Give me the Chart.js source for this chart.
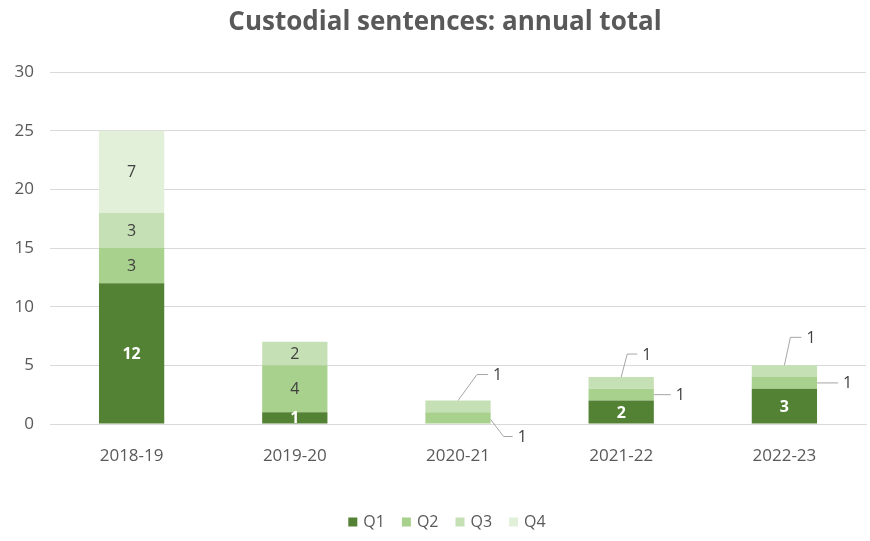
<!DOCTYPE html>
<html>
<head>
<meta charset="utf-8">
<script src="https://cdn.jsdelivr.net/npm/chart.js@4.4.1/dist/chart.umd.min.js"></script>
<style>
  html, body { margin: 0; padding: 0; background: #ffffff; }
  #wrap { width: 870px; height: 541px; }
</style>
</head>
<body>
<div id="wrap"><canvas id="chart" width="870" height="541"></canvas></div>
<script>
const years = ["2018-19", "2019-20", "2020-21", "2021-22", "2022-23"];
const quarterNames = ["Q1", "Q2", "Q3", "Q4"];
const q1Values = [12, 1, 0, 2, 3];
const q2Values = [3, 4, 1, 1, 1];
const q3Values = [3, 2, 1, 1, 1];
const q4Values = [7, 0, 0, 0, 0];
const yMax = 30;
const yStep = 5;
const chartTitle = "Custodial sentences: annual total";

const quarterColors = ["#548235", "#a9d18e", "#c5e0b4", "#e2f0d9"];
const textGrey = "#595959";
const labelGrey = "#404040";
const fontFamily = "'Open Sans', sans-serif";

// small segments get their label pulled out on a leader line
// key = datasetIndex:barIndex, from = anchor on the segment, dx/dy = elbow offset, len = flat run
const callouts = {
  "1:2": { from: "rightBottom", dx: 13, dy: 17, len: 9 },
  "2:2": { from: "top", dx: 19, dy: -26, len: 11 },
  "1:3": { from: "right", dx: 0, dy: 0, len: 17 },
  "2:3": { from: "top", dx: 6, dy: -23, len: 10 },
  "1:4": { from: "right", dx: 0, dy: 0, len: 21 },
  "2:4": { from: "top", dx: 6, dy: -28, len: 11 },
};

const segmentLabels = {
  id: "segmentLabels",
  afterDatasetsDraw(chart) {
    const ctx = chart.ctx;
    ctx.save();
    ctx.textBaseline = "middle";
    chart.data.datasets.forEach((ds, di) => {
      const meta = chart.getDatasetMeta(di);
      meta.data.forEach((bar, i) => {
        const value = ds.data[i];
        if (!value) return;
        const top = Math.min(bar.y, bar.base);
        const bottom = Math.max(bar.y, bar.base);
        const callout = callouts[`${di}:${i}`];
        if (!callout) {
          ctx.font = di === 0 ? `bold 16px ${fontFamily}` : `16px ${fontFamily}`;
          ctx.fillStyle = di === 0 ? "#ffffff" : labelGrey;
          ctx.textAlign = "center";
          ctx.fillText(String(value), bar.x, (top + bottom) / 2 + 1);
          return;
        }
        let sx = bar.x;
        let sy = top;
        if (callout.from === "right") {
          sx = bar.x + bar.width / 2;
          sy = (top + bottom) / 2;
        } else if (callout.from === "rightBottom") {
          sx = bar.x + bar.width / 2;
          sy = bottom - 4;
        }
        const ex = sx + callout.dx;
        const ey = sy + callout.dy;
        ctx.strokeStyle = "#a6a6a6";
        ctx.lineWidth = 1;
        ctx.beginPath();
        ctx.moveTo(sx, sy);
        ctx.lineTo(ex, ey);
        ctx.lineTo(ex + callout.len, ey);
        ctx.stroke();
        ctx.font = `16px ${fontFamily}`;
        ctx.fillStyle = labelGrey;
        ctx.textAlign = "left";
        ctx.fillText(String(value), ex + callout.len + 5, ey + 1);
      });
    });
    ctx.restore();
  },
};

// title and legend sit a little right of the canvas centre, so draw them by hand
const titleAndLegend = {
  id: "titleAndLegend",
  afterDraw(chart) {
    const ctx = chart.ctx;
    ctx.save();
    ctx.textBaseline = "middle";
    ctx.fillStyle = textGrey;
    ctx.font = `bold 26px ${fontFamily}`;
    ctx.textAlign = "center";
    ctx.fillText(chartTitle, 445, 23);

    ctx.font = `16px ${fontFamily}`;
    ctx.textAlign = "left";
    const box = 9, textGap = 6, itemGap = 17, legendY = 522;
    const widths = quarterNames.map((n) => box + textGap + ctx.measureText(n).width);
    const total = widths.reduce((a, b) => a + b, 0) + itemGap * (widths.length - 1);
    let x = 447 - total / 2;
    quarterNames.forEach((name, k) => {
      ctx.fillStyle = quarterColors[k];
      ctx.fillRect(x, legendY - box / 2, box, box);
      ctx.fillStyle = textGrey;
      ctx.fillText(name, x + box + textGap, legendY);
      x += widths[k] + itemGap;
    });
    ctx.restore();
  },
};

const seriesValues = [q1Values, q2Values, q3Values, q4Values];

new Chart(document.getElementById("chart").getContext("2d"), {
  type: "bar",
  data: {
    labels: years,
    datasets: quarterNames.map((name, k) => ({
      label: name,
      data: seriesValues[k],
      backgroundColor: quarterColors[k],
      borderWidth: 0,
      barPercentage: 0.8,
      categoryPercentage: 0.5,
    })),
  },
  options: {
    responsive: false,
    animation: false,
    layout: { padding: { left: 6, right: 4, top: 72, bottom: 0 } },
    plugins: {
      title: { display: false },
      legend: { display: false },
      tooltip: { enabled: false },
    },
    scales: {
      x: {
        stacked: true,
        grid: { display: false },
        border: { color: "#d9d9d9" },
        ticks: { color: textGrey, font: { family: fontFamily, size: 17 }, padding: 14 },
        afterFit(scale) { scale.height = 117; },
      },
      y: {
        stacked: true,
        min: 0,
        max: yMax,
        ticks: { stepSize: yStep, color: textGrey, font: { family: fontFamily, size: 17 }, padding: 16 },
        grid: { color: "#d9d9d9", drawTicks: false },
        border: { display: false },
        afterFit(scale) { scale.width = 44; },
      },
    },
  },
  plugins: [segmentLabels, titleAndLegend],
});
</script>
</body>
</html>
